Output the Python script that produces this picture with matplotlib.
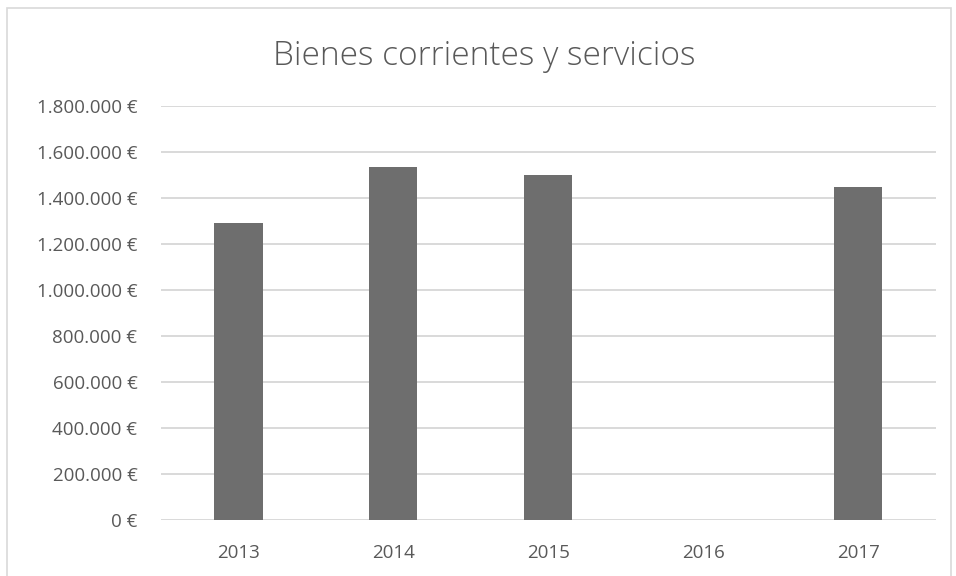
import matplotlib.pyplot as plt
from matplotlib.patches import Rectangle
from matplotlib.ticker import FuncFormatter

# data
years = ["2013", "2014", "2015", "2016", "2017"]
gasto = [1293000, 1535000, 1500000, 0, 1448000]
yticks = [0, 200000, 400000, 600000, 800000, 1000000, 1200000, 1400000, 1600000, 1800000]

plt.rcParams["font.family"] = ["Open Sans", "DejaVu Sans"]

text_col = "#595959"
bar_col = "#6e6e6e"
grid_col = "#d9d9d9"

fig = plt.figure(figsize=(9.56, 5.76), dpi=100)
ax = fig.add_axes([0.1684, 0.0972, 0.8106, 0.7188])

# outer chart frame
fig.patches.append(Rectangle((7 / 956, -0.01), 944 / 956, 1.0 - 8 / 576 + 0.01,
                             transform=fig.transFigure, fill=False,
                             edgecolor="#d9d9d9", linewidth=1.2))

x = range(len(years))
ax.bar(x, gasto, width=0.31, color=bar_col, zorder=3)

ax.set_xlim(-0.5, len(years) - 0.5)
ax.set_ylim(0, 1800000)
ax.set_yticks(yticks)
ax.yaxis.set_major_formatter(FuncFormatter(lambda v, p: f"{int(v):,}".replace(",", ".") + " €"))
ax.set_xticks(list(x))
ax.set_xticklabels(years)

ax.grid(axis="y", color=grid_col, linewidth=1.4, zorder=0)
for s in ax.spines.values():
    s.set_visible(False)
ax.tick_params(axis="both", length=0, colors=text_col, labelsize=13.5)
ax.tick_params(axis="y", pad=17)
ax.tick_params(axis="x", pad=17)

fig.text(0.507, 0.903, "Bienes corrientes y servicios", ha="center", va="center",
         fontsize=24, color=text_col, fontweight="light")

fig.savefig("out.png", dpi=100)
